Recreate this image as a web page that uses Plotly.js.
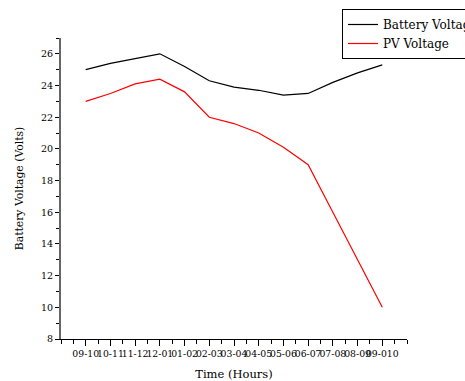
<!DOCTYPE html>
<html>
<head>
<meta charset="utf-8">
<script src="https://cdn.plot.ly/plotly-3.0.1.min.js"></script>
<style>html,body{margin:0;padding:0;background:#fff;}#chart{width:465px;height:381px;}</style>
</head>
<body>
<div id="chart"></div>
<script>
const timeLabels = ["09-10","10-11","11-12","12-01","01-02","02-03","03-04","04-05","05-06","06-07","07-08","08-09","09-010"];
const batteryVoltage = [25.0, 25.4, 25.7, 26.0, 25.2, 24.3, 23.9, 23.7, 23.4, 23.5, 24.2, 24.8, 25.3];
const pvVoltage = [23.0, 23.5, 24.1, 24.4, 23.6, 22.0, 21.6, 21.0, 20.1, 19.0, 16.0, 13.0, 10.0];
const xIdx = timeLabels.map((_, i) => i);

const FONT = "'DejaVu Serif', serif";

const traces = [
  {x: xIdx, y: batteryVoltage, type: 'scatter', mode: 'lines', name: 'Battery Voltage',
   line: {color: '#000000', width: 1.2}},
  {x: xIdx, y: pvVoltage, type: 'scatter', mode: 'lines', name: 'PV Voltage',
   line: {color: '#ff0000', width: 1.2}}
];

const layout = {
  width: 465, height: 381,
  margin: {l: 61, r: 58, t: 38, b: 42, autoexpand: false},
  paper_bgcolor: '#fff', plot_bgcolor: '#fff',
  font: {family: FONT, color: '#000', size: 9},
  showlegend: true,
  legend: {x: 342/465, xref: 'container', y: 1 - 9/381, yref: 'container', xanchor: 'left', yanchor: 'top',
    bordercolor: '#000', borderwidth: 1, bgcolor: '#fff',
    font: {family: FONT, size: 12, color: '#000'}, itemwidth: 30, tracegroupgap: 0},
  xaxis: {
    range: [-1, 13], tickmode: 'array', tickvals: xIdx, ticktext: timeLabels,
    tickangle: 0, ticks: 'outside', ticklen: 6, tickwidth: 1, tickcolor: '#000',
    showline: true, linecolor: '#000', linewidth: 1, showgrid: false, zeroline: false,
    tickfont: {family: FONT, size: 9.3, color: '#000'},
    minor: {dtick: 0.5, tick0: 0, ticks: 'outside', ticklen: 4, tickcolor: '#000', showgrid: false},
    title: {text: 'Time (Hours)', font: {family: FONT, size: 11.5, color: '#000'}, standoff: 15}
  },
  yaxis: {
    range: [8, 27], tickmode: 'linear', tick0: 8, dtick: 2,
    ticks: 'outside', ticklen: 4, tickwidth: 1, tickcolor: '#000',
    showline: true, linecolor: '#666', linewidth: 2, showgrid: false, zeroline: false,
    tickfont: {family: FONT, size: 9.5, color: '#000'},
    minor: {dtick: 1, tick0: 8, ticks: 'outside', ticklen: 3, tickcolor: '#000', showgrid: false},
    title: {text: 'Battery Voltage (Volts)', font: {family: FONT, size: 10.8, color: '#000'}, standoff: 15}
  }
};

Plotly.newPlot('chart', traces, layout, {displayModeBar: false, staticPlot: true});
</script>
</body>
</html>
